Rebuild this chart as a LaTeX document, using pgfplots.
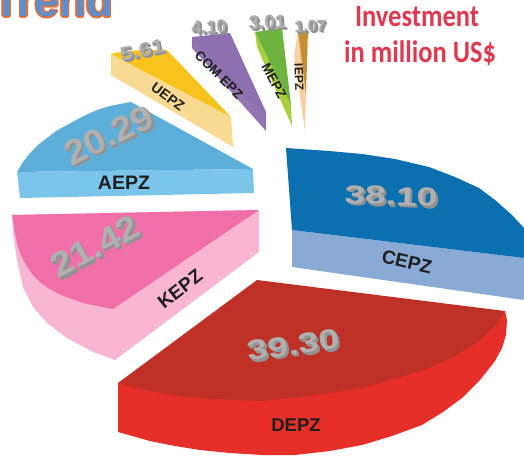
\documentclass[border=0pt]{standalone}
\usepackage{pgfplots}
\pgfplotsset{compat=1.18}
\usepackage{fontspec}
\setmainfont{Liberation Sans}
\newfontfamily\carl{Carlito}
\definecolor{aT}{HTML}{5DAFDA}\definecolor{aS}{HTML}{7BC4EA}
\definecolor{uT}{HTML}{F8C31D}\definecolor{uS}{HTML}{F8DA92}
\definecolor{cmT}{HTML}{8E6FAF}\definecolor{cmS}{HTML}{9176B3}
\definecolor{mT}{HTML}{6FB33F}\definecolor{mS}{HTML}{A8D03C}
\definecolor{iT}{HTML}{C48F33}\definecolor{iS}{HTML}{F7CFA0}
\definecolor{kT}{HTML}{F06FA8}\definecolor{kS}{HTML}{F9B6D3}
\definecolor{dT}{HTML}{BF3026}\definecolor{dS}{HTML}{E52F28}
\definecolor{cT}{HTML}{0B6FB0}\definecolor{cS}{HTML}{8AAAD6}
\definecolor{inv}{HTML}{E0394F}
\definecolor{valF}{HTML}{B0B0B0}\definecolor{valB}{HTML}{929292}
\definecolor{trB}{HTML}{5F8FCB}\definecolor{trO}{HTML}{E2703A}
% x, y, rotation, size, y-squeeze, text
\newcommand{\vall}[7]{\node[text=#7,rotate=#3,inner sep=0pt] at (axis cs:#1,#2) {\fontsize{#4}{#4}\selectfont\bfseries\scalebox{1}[#5]{#6}};}
\newcommand{\val}[6]{%
  \vall{#1+2.4}{#2+2.4}{#3}{#4}{#5}{#6}{valB}
  \vall{#1+1.6}{#2+1.6}{#3}{#4}{#5}{#6}{valB}
  \vall{#1+0.8}{#2+0.8}{#3}{#4}{#5}{#6}{valB}
  \vall{#1}{#2}{#3}{#4}{#5}{#6}{valF}}
\newcommand{\lab}[5]{\node[text=black!88,rotate=#3,inner sep=0pt] at (axis cs:#1,#2) {\fontsize{#4}{#4}\selectfont\bfseries #5};}
\newcommand{\trl}[3]{\node[text=#3,anchor=base west,inner sep=0pt] at (axis cs:#1,#2) {\fontsize{44}{44}\selectfont\bfseries Trend};}
\begin{document}
\begin{tikzpicture}
\clip (0,0) rectangle (524pt,457pt);
\begin{axis}[at={(0,0)},anchor=south west,scale only axis,width=524pt,height=457pt,
  xmin=0,xmax=524,ymin=0,ymax=457,y dir=reverse,hide axis,clip=false]
% AEPZ
\addplot[draw=none,fill=aS] coordinates {(17,172)(253,169)(254,193)(20,198)} --cycle;
\addplot[draw=none,fill=aT] coordinates {(17,172)(23,162)(30,153)(38,145)(47,138)(56,131)(67,125)(78,119)(90,113)(100,109)(110,106)(120,104)(131,102)(253,169)} --cycle;
% UEPZ
\addplot[draw=none,fill=uS] coordinates {(111,54)(231,117)(233,147)(111,75)} --cycle;
\addplot[draw=none,fill=uT] coordinates {(111,54)(125,51)(146,50)(167,50)(231,117)} --cycle;
% COM EPZ
\addplot[draw=none,fill=cmS] coordinates {(192,37)(266,112)(266,131)(192,48)} --cycle;
\addplot[draw=none,fill=cmT] coordinates {(192,37)(230,33)(266,112)(240,95)} --cycle;
% MEPZ
\addplot[draw=none,fill=mS] coordinates {(255,32)(291,105)(292,126)(257,47)} --cycle;
\addplot[draw=none,fill=mT] coordinates {(255,32)(282,28)(291,105)} --cycle;
% IEPZ
\addplot[draw=none,fill=iS] coordinates {(298,31)(306,95)(305,131)(294,55)} --cycle;
\addplot[draw=none,fill=iT] coordinates {(298,31)(308,31)(306,95)} --cycle;
% KEPZ
\addplot[draw=none,fill=kS] coordinates {(12,215)(259,210)(259,252)(115,360)(93,352)(67,338)(47,323)(33,307)(23,287)(17,260)(13,233)} --cycle;
\addplot[draw=none,fill=kT] coordinates {(12,215)(259,210)(113,309)(97,306)(83,303)(69,298)(57,293)(48,288)(40,282)(33,275)(28,268)(24,261)(20,253)(17,243)(15,233)} --cycle;
% DEPZ
\addplot[draw=none,fill=dS] coordinates {(118,383)(505,311)(507,320)(506,335)(502,348)(495,361)(480,380)(462,398)(443,412)(422,425)(392,436)(362,445)(330,451)(295,455)(262,455)(230,453)(200,450)(175,446)(150,441)(118,432)} --cycle;
\addplot[draw=none,fill=dT] coordinates {(257,280)(505,311)(495,326)(479,341)(455,356)(429,368)(395,379)(362,388)(330,393)(300,397)(262,401)(235,400)(210,399)(185,397)(160,393)(140,389)(118,383)} --cycle;
% CEPZ
\addplot[draw=none,fill=cS] coordinates {(292,230)(524,258)(524,300)(292,267)} --cycle;
\addplot[draw=none,fill=cT] coordinates {(286,148)(329,151)(362,154)(395,159)(429,167)(455,177)(479,188)(495,200)(512,215)(524,228)(524,258)(292,230)} --cycle;
% Title
\trl{-8.4}{17}{trO}\trl{-5.6}{17}{trO}\trl{-7}{15.6}{trO}\trl{-7}{18.4}{trO}
\trl{-8}{16}{trO}\trl{-6}{16}{trO}\trl{-8}{18}{trO}\trl{-6}{18}{trO}
\trl{-7}{17}{trB}
\node[text=inv,anchor=base,inner sep=0pt] at (axis cs:417,27) {\carl\fontsize{27}{27}\selectfont\bfseries\scalebox{0.98}[1.15]{Investment}};
\node[text=inv,anchor=base,inner sep=0pt] at (axis cs:420,63) {\carl\fontsize{27}{27}\selectfont\bfseries\scalebox{0.98}[1.15]{in million US\$}};
% Labels
\lab{124}{183}{0}{19.5}{AEPZ}
\lab{296}{425}{0}{18.5}{DEPZ}
\lab{407}{262}{-13}{19}{CEPZ}
\lab{180}{289}{38}{19}{KEPZ}
\lab{168}{97}{-37}{14}{UEPZ}
\lab{219}{75}{-45}{13.5}{COM EPZ}
\lab{274}{81}{-62}{13.5}{MEPZ}
\lab{299}{77}{-88}{12}{IEPZ}
% Values
\val{391}{196}{-2}{37}{0.7}{38.10}
\val{293}{345}{8}{37}{0.75}{39.30}
\val{109}{135}{26}{38}{0.9}{20.29}
\val{95}{246}{28}{38}{0.9}{21.42}
\val{142}{50}{12}{23}{0.85}{5.61}
\val{209}{27}{2}{18}{1}{4.10}
\val{267}{22}{2}{19}{1}{3.01}
\val{310}{26}{2}{16}{1}{1.07}
\end{axis}
\end{tikzpicture}
\end{document}
